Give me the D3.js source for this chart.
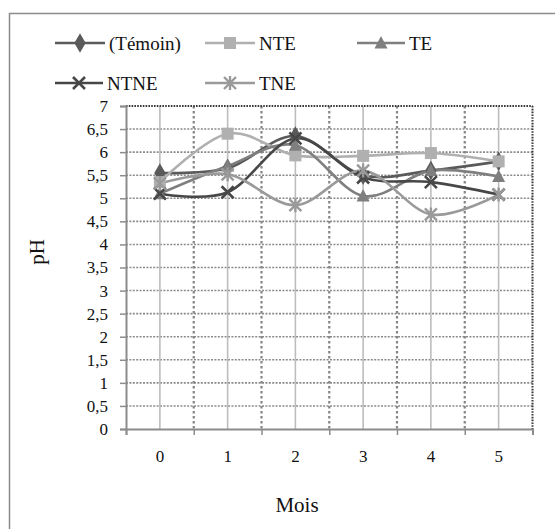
<!DOCTYPE html>
<html>
<head>
<meta charset="utf-8">
<script src="https://cdn.jsdelivr.net/npm/d3@7"></script>
<style>
  html, body { margin: 0; padding: 0; background: #fff; }
  svg { display: block; }
  svg text { font-family: "Liberation Serif", "Times New Roman", serif; }
</style>
</head>
<body>
<svg id="chart" width="555" height="529"></svg>
<script>
// Months of measurement
const months = [0, 1, 2, 3, 4, 5];

// pH per treatment
const temoin = [5.55, 5.65, 6.35, 5.5, 5.6, 5.8];
const nte    = [5.35, 6.4, 5.93, 5.92, 5.98, 5.8];
const te     = [5.1, 5.7, 6.15, 5.05, 5.6, 5.47];
const ntne   = [5.1, 5.13, 6.3, 5.45, 5.35, 5.08];
const tne    = [5.32, 5.52, 4.85, 5.6, 4.65, 5.08];

const seriesNames = ["(Témoin)", "NTE", "TE", "NTNE", "TNE"];
const seriesValues = [temoin, nte, te, ntne, tne];
const seriesColors = ["#5a5a5a", "#b0b0b0", "#7f7f7f", "#474747", "#9a9a9a"];
const seriesSymbols = ["diamond", "square", "triangle", "cross", "asterisk"];

const yTicks = d3.range(0, 7.01, 0.5);
const serif = "'Liberation Serif', 'Times New Roman', serif";

const svg = d3.select("#chart");

// outer frame
svg.append("rect")
  .attr("x", 9.5).attr("y", 13.5)
  .attr("width", 600).attr("height", 600)
  .attr("fill", "#fff").attr("stroke", "#8c8c8c").attr("stroke-width", 1.5);

const plot = { left: 126, right: 532.5, top: 106, bottom: 429 };

const x = d3.scaleBand().domain(months).range([plot.left, plot.right]).padding(0);
const y = d3.scaleLinear().domain([0, 7]).range([plot.bottom, plot.top]);

const g = svg.append("g");

// horizontal dotted grid
g.selectAll("line.hgrid").data(yTicks.filter(d => d > 0 && d < 7)).enter().append("line")
  .attr("x1", plot.left).attr("x2", plot.right)
  .attr("y1", d => y(d)).attr("y2", d => y(d))
  .attr("stroke", "#8a8a8a").attr("stroke-width", 1.6).attr("stroke-dasharray", "2,1.4");

// solid verticals through each month
g.selectAll("line.vmid").data(months).enter().append("line")
  .attr("x1", d => x(d) + x.bandwidth() / 2).attr("x2", d => x(d) + x.bandwidth() / 2)
  .attr("y1", plot.top).attr("y2", plot.bottom)
  .attr("stroke", "#bdbdbd").attr("stroke-width", 1.6);

// dotted verticals between months
g.selectAll("line.vsep").data(months.slice(1)).enter().append("line")
  .attr("x1", d => x(d)).attr("x2", d => x(d))
  .attr("y1", plot.top).attr("y2", plot.bottom)
  .attr("stroke", "#858585").attr("stroke-width", 2.2).attr("stroke-dasharray", "2.5,2.5");

// top and right dotted border
g.append("line")
  .attr("x1", plot.left).attr("x2", plot.right)
  .attr("y1", plot.top).attr("y2", plot.top)
  .attr("stroke", "#3a3a3a").attr("stroke-width", 2).attr("stroke-dasharray", "1.6,1.2");
g.append("line")
  .attr("x1", plot.right).attr("x2", plot.right)
  .attr("y1", plot.top).attr("y2", plot.bottom)
  .attr("stroke", "#3a3a3a").attr("stroke-width", 2).attr("stroke-dasharray", "1.6,1.2");

// y axis
const yAxis = d3.axisLeft(y).tickValues(yTicks).tickSize(6).tickPadding(12)
  .tickFormat(d => String(d).replace(".", ","));
const ya = svg.append("g").attr("transform", `translate(${plot.left},0)`).call(yAxis)
  .attr("font-family", serif).attr("font-size", 17);
ya.select(".domain").attr("stroke", "#8c8c8c").attr("stroke-width", 2);
ya.selectAll(".tick line").attr("stroke", "#8c8c8c").attr("stroke-width", 1.5);
ya.selectAll(".tick text").attr("fill", "#111");

// x axis: tick marks on month boundaries, labels centred on months
const xb = d3.scaleLinear().domain([0, 6]).range([plot.left, plot.right]);
const xa = svg.append("g").attr("transform", `translate(0,${plot.bottom})`)
  .call(d3.axisBottom(xb).tickValues(d3.range(0, 7)).tickSize(6).tickFormat(""));
xa.select(".domain").attr("stroke", "#8c8c8c").attr("stroke-width", 2);
xa.selectAll(".tick line").attr("stroke", "#8c8c8c").attr("stroke-width", 1.5);
svg.append("g").attr("font-family", serif).selectAll("text").data(months).enter().append("text")
  .attr("x", d => x(d) + x.bandwidth() / 2).attr("y", 462)
  .attr("text-anchor", "middle").attr("font-size", 17).attr("fill", "#111")
  .text(d => d);

// axis titles
svg.append("text").attr("x", 297).attr("y", 512).attr("text-anchor", "middle")
  .attr("font-family", serif).attr("font-size", 21).attr("fill", "#111").text("Mois");
svg.append("text").attr("transform", "translate(44,252) rotate(-90)")
  .attr("text-anchor", "middle").attr("font-family", serif)
  .attr("font-size", 21).attr("fill", "#111").text("pH");

// marker drawing
function drawMarker(sel, kind, color) {
  if (kind === "diamond") {
    sel.append("path").attr("d", d3.symbol(d3.symbolDiamond, 110)()).attr("fill", color);
  } else if (kind === "square") {
    sel.append("rect").attr("x", -6).attr("y", -6).attr("width", 12).attr("height", 12).attr("fill", color);
  } else if (kind === "triangle") {
    sel.append("path").attr("d", "M0,-7L6.5,5.5L-6.5,5.5Z").attr("fill", color);
  } else if (kind === "cross") {
    sel.append("path").attr("d", "M-6,-6L6,6M-6,6L6,-6").attr("stroke", color).attr("stroke-width", 2.6).attr("fill", "none");
  } else if (kind === "asterisk") {
    sel.append("path").attr("d", "M-6,-6L6,6M-6,6L6,-6M0,-7L0,7").attr("stroke", color).attr("stroke-width", 2.4).attr("fill", "none");
  }
}

const line = d3.line()
  .x((d, i) => x(months[i]) + x.bandwidth() / 2)
  .y(d => y(d))
  .curve(d3.curveCardinal.tension(0));

seriesValues.forEach((vals, si) => {
  svg.append("path").datum(vals).attr("d", line)
    .attr("fill", "none").attr("stroke", seriesColors[si]).attr("stroke-width", 2.6);
});
seriesValues.forEach((vals, si) => {
  svg.append("g").selectAll("g").data(vals).enter().append("g")
    .attr("transform", (d, i) => `translate(${x(months[i]) + x.bandwidth() / 2},${y(d)})`)
    .each(function () { drawMarker(d3.select(this), seriesSymbols[si], seriesColors[si]); });
});

// legend
const legendPos = [
  { lx: 55, ly: 43, w: 50 },
  { lx: 205, ly: 43, w: 50 },
  { lx: 357, ly: 43, w: 48 },
  { lx: 55, ly: 83, w: 48 },
  { lx: 205, ly: 83, w: 50 }
];
const leg = svg.append("g").attr("font-family", serif);
seriesNames.forEach((name, si) => {
  const p = legendPos[si];
  const item = leg.append("g");
  item.append("line").attr("x1", p.lx).attr("x2", p.lx + p.w)
    .attr("y1", p.ly).attr("y2", p.ly)
    .attr("stroke", seriesColors[si]).attr("stroke-width", 2.6);
  const m = item.append("g").attr("transform", `translate(${p.lx + p.w / 2},${p.ly})`);
  drawMarker(m, seriesSymbols[si], seriesColors[si]);
  item.append("text").attr("x", p.lx + p.w + 4).attr("y", p.ly + 7)
    .attr("font-size", 19).attr("fill", "#111").text(name);
});
</script>
</body>
</html>
